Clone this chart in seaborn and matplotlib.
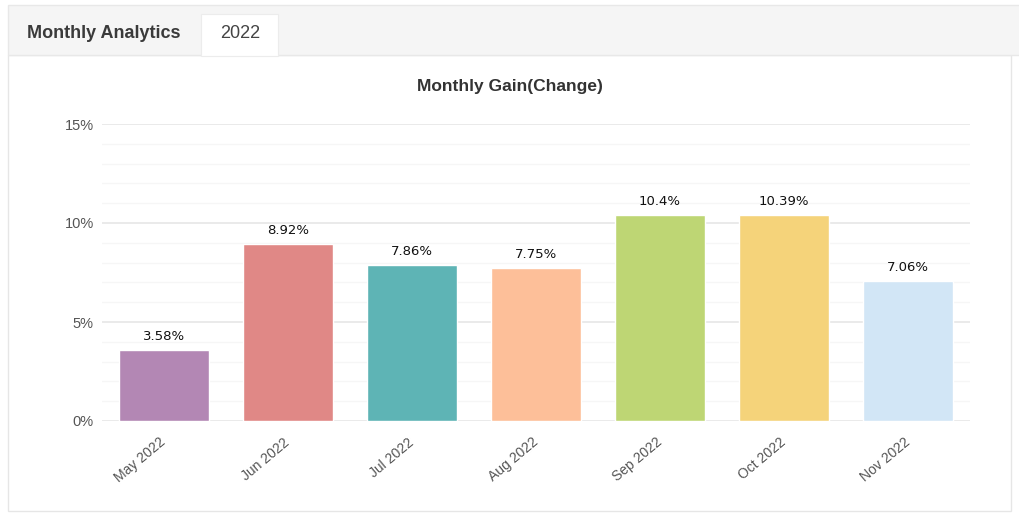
import matplotlib
matplotlib.use("Agg")
import matplotlib.pyplot as plt
import seaborn as sns
import pandas as pd
from matplotlib.patches import Rectangle
from matplotlib.ticker import MultipleLocator, FuncFormatter

months = ["May 2022", "Jun 2022", "Jul 2022", "Aug 2022", "Sep 2022", "Oct 2022", "Nov 2022"]
gains = [3.58, 8.92, 7.86, 7.75, 10.4, 10.39, 7.06]
value_labels = ["3.58%", "8.92%", "7.86%", "7.75%", "10.4%", "10.39%", "7.06%"]
colors = ["#b387b4", "#e08886", "#5eb4b5", "#fdbf99", "#bed674", "#f5d37a", "#d2e6f6"]
y_ticks = [0, 5, 10, 15]

df = pd.DataFrame({"month": months, "gain": gains})

sns.set_theme(style="white")
plt.rcParams['font.family'] = ['Liberation Sans', 'DejaVu Sans']

W, H = 1020, 520
fig = plt.figure(figsize=(W / 100, H / 100), dpi=100)
fig.patch.set_facecolor("white")

def fx(x): return x / W
def fy(y): return 1 - y / H

# outer panel border
fig.add_artist(Rectangle((fx(8), fy(511)), fx(1011) - fx(8), fy(55) - fy(511),
                         transform=fig.transFigure, facecolor="white",
                         edgecolor="#e6e6e6", linewidth=1.0, zorder=0))
# tab bar
fig.add_artist(Rectangle((fx(8), fy(55)), fx(1020) - fx(8), fy(5) - fy(55),
                         transform=fig.transFigure, facecolor="#f5f5f5",
                         edgecolor="#e8e8e8", linewidth=1.0, zorder=1))
fig.add_artist(Rectangle((fx(201), fy(56)), fx(278) - fx(201), fy(14) - fy(56),
                         transform=fig.transFigure, facecolor="white",
                         edgecolor="#ececec", linewidth=0.8, zorder=2))
fig.text(fx(27), fy(34), "Monthly Analytics", fontsize=13, fontweight="bold",
         color="#3a3a3a", ha="left", va="center", zorder=3)
fig.text(fx(240), fy(34), "2022", fontsize=13, color="#444444",
         ha="center", va="center", zorder=3)

fig.text(fx(510), fy(87), "Monthly Gain(Change)", fontsize=12.5, fontweight="bold",
         color="#333333", ha="center", va="center")

ax = fig.add_axes([fx(102), fy(421), fx(970) - fx(102), fy(124) - fy(421)])
sns.barplot(data=df, x="month", y="gain", hue="month", palette=colors,
            width=0.73, legend=False, ax=ax, saturation=1)
ax.set_xlim(-0.5, len(months) - 0.5)
ax.set_ylim(0, 15)
ax.set_yticks(y_ticks)
ax.yaxis.set_minor_locator(MultipleLocator(1))
ax.yaxis.set_major_formatter(FuncFormatter(lambda v, p: f"{v:g}%"))
ax.grid(axis="y", which="major", color="#e6e6e6", linewidth=1.2)
ax.grid(axis="y", which="minor", color="#f6f6f6", linewidth=1.0)
ax.set_axisbelow(True)
for s in ax.spines.values():
    s.set_visible(False)
ax.set_xlabel("")
ax.set_ylabel("")
ax.tick_params(axis="y", which="both", length=0, labelsize=10.5, labelcolor="#555555", pad=6)
ax.tick_params(axis="x", length=0, labelsize=10, labelcolor="#555555", pad=14)
for lbl in ax.get_xticklabels():
    lbl.set_rotation(40)
    lbl.set_ha("right")
    lbl.set_va("center")
    lbl.set_rotation_mode("anchor")

labels_done = 0
for container in ax.containers:
    n = len(container)
    lab = value_labels[labels_done:labels_done + n]
    ax.bar_label(container, labels=lab, padding=5, fontsize=9.5, color="#111111",
                 family="DejaVu Sans")
    labels_done += n

fig.savefig("out.png", dpi=100)
